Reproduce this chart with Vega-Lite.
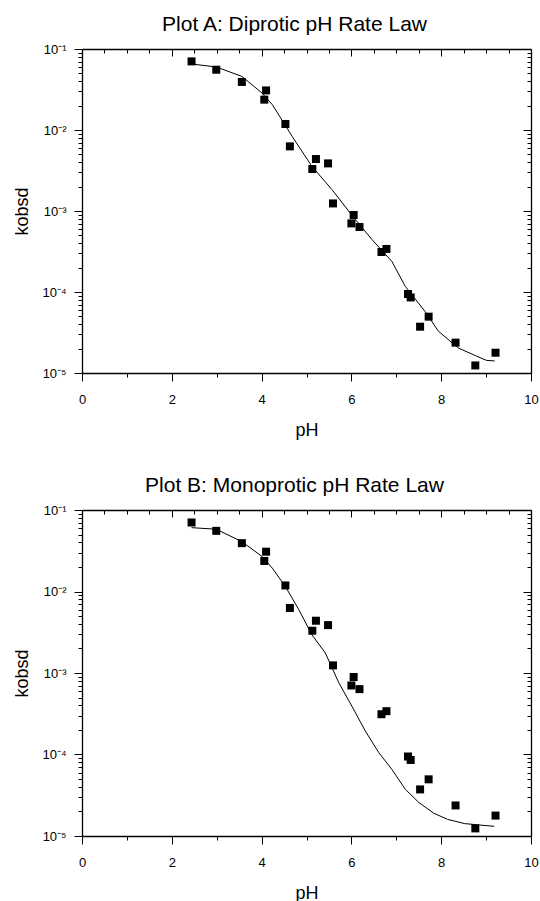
{
  "$schema": "https://vega.github.io/schema/vega-lite/v6.json",
  "background": "white",
  "padding": {"left": 13, "top": 14, "right": 5, "bottom": 5},
  "spacing": 36,
  "config": {
    "font": "Liberation Sans",
    "view": {"stroke": null},
    "axis": {"grid": false, "domainColor": "black", "tickColor": "black", "labelColor": "black", "titleColor": "black", "labelFont": "Liberation Sans", "titleFont": "Liberation Sans", "labelFontSize": 13, "titleFontSize": 18, "titleFontWeight": "normal", "domainWidth": 1.3, "tickWidth": 1, "labelOverlap": false, "labelFlush": false},
    "title": {"fontSize": 21, "fontWeight": "normal", "font": "Liberation Sans", "color": "black"}
  },
  "datasets": {
    "obs": [
      {"pH": 2.44, "k": 0.0703}, {"pH": 2.99, "k": 0.0555}, {"pH": 3.56, "k": 0.0392}, {"pH": 4.10, "k": 0.0308},
      {"pH": 4.06, "k": 0.0237}, {"pH": 4.53, "k": 0.01186}, {"pH": 4.63, "k": 0.00628}, {"pH": 5.21, "k": 0.00438},
      {"pH": 5.13, "k": 0.0033}, {"pH": 5.48, "k": 0.00387}, {"pH": 5.59, "k": 0.00124}, {"pH": 6.05, "k": 0.000893},
      {"pH": 6.00, "k": 0.000703}, {"pH": 6.18, "k": 0.000634}, {"pH": 6.67, "k": 0.000312}, {"pH": 6.78, "k": 0.00034},
      {"pH": 7.26, "k": 0.0000945}, {"pH": 7.32, "k": 0.0000857}, {"pH": 7.53, "k": 0.0000373}, {"pH": 7.72, "k": 0.0000496},
      {"pH": 8.32, "k": 0.0000237}, {"pH": 8.76, "k": 0.0000124}, {"pH": 9.21, "k": 0.0000178}
    ],
    "fitA": [
      {"pH": 2.44, "k": 0.0653}, {"pH": 2.99, "k": 0.0600}, {"pH": 3.56, "k": 0.0459}, {"pH": 4.01, "k": 0.0286},
      {"pH": 4.24, "k": 0.0205}, {"pH": 4.68, "k": 0.00834}, {"pH": 5.12, "k": 0.00356}, {"pH": 5.57, "k": 0.00183},
      {"pH": 6.03, "k": 0.000859}, {"pH": 6.46, "k": 0.000443}, {"pH": 6.90, "k": 0.000239}, {"pH": 7.20, "k": 0.0001175},
      {"pH": 7.64, "k": 0.0000575}, {"pH": 7.94, "k": 0.0000327}, {"pH": 8.38, "k": 0.0000204}, {"pH": 8.76, "k": 0.0000164},
      {"pH": 9.01, "k": 0.0000143}, {"pH": 9.19, "k": 0.0000141}
    ],
    "fitB": [
      {"pH": 2.44, "k": 0.0607}, {"pH": 2.99, "k": 0.0581}, {"pH": 3.56, "k": 0.0409}, {"pH": 4.01, "k": 0.0269},
      {"pH": 4.24, "k": 0.0193}, {"pH": 4.53, "k": 0.0115}, {"pH": 4.83, "k": 0.00597}, {"pH": 5.12, "k": 0.00295},
      {"pH": 5.42, "k": 0.00176}, {"pH": 5.72, "k": 0.000759}, {"pH": 6.01, "k": 0.000392}, {"pH": 6.31, "k": 0.000194},
      {"pH": 6.61, "k": 0.0001054}, {"pH": 6.90, "k": 0.0000659}, {"pH": 7.20, "k": 0.0000375}, {"pH": 7.50, "k": 0.0000258},
      {"pH": 7.83, "k": 0.0000191}, {"pH": 8.14, "k": 0.0000160}, {"pH": 8.52, "k": 0.0000142}, {"pH": 8.91, "k": 0.00001355},
      {"pH": 9.18, "k": 0.00001315}
    ]
  },
  "vconcat": [
    {
      "width": 449, "height": 324,
      "title": {"text": "Plot A: Diprotic pH Rate Law", "offset": 8, "dx": -12},
      "layer": [
        {
          "data": {"name": "obs"},
          "mark": {"type": "point", "shape": "square", "filled": true, "color": "black", "size": 64, "opacity": 1},
          "encoding": {
            "x": {"field": "pH", "type": "quantitative", "scale": {"domain": [0, 10], "nice": false},
              "axis": {"orient": "bottom", "title": "pH", "format": "d", "values": [0,0.5,1,1.5,2,2.5,3,3.5,4,4.5,5,5.5,6,6.5,7,7.5,8,8.5,9,9.5,10], "labelExpr": "datum.value % 2 == 0 ? datum.label : ''", "tickSize": {"condition": {"test": "datum.value % 2 == 0", "value": 8}, "value": 4}, "labelPadding": 12, "titlePadding": 15}},
            "y": {"field": "k", "type": "quantitative", "scale": {"type": "log", "domain": [0.00001, 0.1], "nice": false},
              "axis": {"orient": "left", "title": "kobsd", "values": [0.00001,0.00002,0.00003,0.00004,0.00005,0.00006,0.00007,0.00008,0.00009,0.0001,0.0002,0.0003,0.0004,0.0005,0.0006,0.0007,0.0008,0.0009,0.001,0.002,0.003,0.004,0.005,0.006,0.007,0.008,0.009,0.01,0.02,0.03,0.04,0.05,0.06,0.07,0.08,0.09,0.1],
                "labelExpr": "abs(log(datum.value)/LN10 - round(log(datum.value)/LN10)) < 0.01 ? '10' + (round(log(datum.value)/LN10) == -1 ? '⁻¹' : round(log(datum.value)/LN10) == -2 ? '⁻²' : round(log(datum.value)/LN10) == -3 ? '⁻³' : round(log(datum.value)/LN10) == -4 ? '⁻⁴' : '⁻⁵') : ''",
                "tickSize": {"condition": {"test": "abs(log(datum.value)/LN10 - round(log(datum.value)/LN10)) < 0.01", "value": 8}, "value": 4}, "labelPadding": 8, "titlePadding": 10}}
          }
        },
        {
          "data": {"name": "fitA"},
          "mark": {"type": "line", "color": "black", "strokeWidth": 1},
          "encoding": {
            "x": {"field": "pH", "type": "quantitative", "scale": {"domain": [0, 10], "nice": false},
              "axis": {"orient": "top", "title": null, "labels": false, "values": [0,0.5,1,1.5,2,2.5,3,3.5,4,4.5,5,5.5,6,6.5,7,7.5,8,8.5,9,9.5,10], "tickSize": {"condition": {"test": "datum.value % 2 == 0", "value": -7}, "value": -4}}},
            "y": {"field": "k", "type": "quantitative", "scale": {"type": "log", "domain": [0.00001, 0.1], "nice": false},
              "axis": {"orient": "right", "title": null, "labels": false, "values": [0.00001,0.00002,0.00003,0.00004,0.00005,0.00006,0.00007,0.00008,0.00009,0.0001,0.0002,0.0003,0.0004,0.0005,0.0006,0.0007,0.0008,0.0009,0.001,0.002,0.003,0.004,0.005,0.006,0.007,0.008,0.009,0.01,0.02,0.03,0.04,0.05,0.06,0.07,0.08,0.09,0.1],
                "tickSize": {"condition": {"test": "abs(log(datum.value)/LN10 - round(log(datum.value)/LN10)) < 0.01", "value": -8}, "value": -4}}}
          }
        }
      ],
      "resolve": {"axis": {"x": "independent", "y": "independent"}}
    },
    {
      "width": 449, "height": 326,
      "title": {"text": "Plot B: Monoprotic pH Rate Law", "offset": 8, "dx": -12},
      "layer": [
        {
          "data": {"name": "obs"},
          "mark": {"type": "point", "shape": "square", "filled": true, "color": "black", "size": 64, "opacity": 1},
          "encoding": {
            "x": {"field": "pH", "type": "quantitative", "scale": {"domain": [0, 10], "nice": false},
              "axis": {"orient": "bottom", "title": "pH", "format": "d", "values": [0,0.5,1,1.5,2,2.5,3,3.5,4,4.5,5,5.5,6,6.5,7,7.5,8,8.5,9,9.5,10], "labelExpr": "datum.value % 2 == 0 ? datum.label : ''", "tickSize": {"condition": {"test": "datum.value % 2 == 0", "value": 8}, "value": 4}, "labelPadding": 12, "titlePadding": 15}},
            "y": {"field": "k", "type": "quantitative", "scale": {"type": "log", "domain": [0.00001, 0.1], "nice": false},
              "axis": {"orient": "left", "title": "kobsd", "values": [0.00001,0.00002,0.00003,0.00004,0.00005,0.00006,0.00007,0.00008,0.00009,0.0001,0.0002,0.0003,0.0004,0.0005,0.0006,0.0007,0.0008,0.0009,0.001,0.002,0.003,0.004,0.005,0.006,0.007,0.008,0.009,0.01,0.02,0.03,0.04,0.05,0.06,0.07,0.08,0.09,0.1],
                "labelExpr": "abs(log(datum.value)/LN10 - round(log(datum.value)/LN10)) < 0.01 ? '10' + (round(log(datum.value)/LN10) == -1 ? '⁻¹' : round(log(datum.value)/LN10) == -2 ? '⁻²' : round(log(datum.value)/LN10) == -3 ? '⁻³' : round(log(datum.value)/LN10) == -4 ? '⁻⁴' : '⁻⁵') : ''",
                "tickSize": {"condition": {"test": "abs(log(datum.value)/LN10 - round(log(datum.value)/LN10)) < 0.01", "value": 8}, "value": 4}, "labelPadding": 8, "titlePadding": 10}}
          }
        },
        {
          "data": {"name": "fitB"},
          "mark": {"type": "line", "color": "black", "strokeWidth": 1},
          "encoding": {
            "x": {"field": "pH", "type": "quantitative", "scale": {"domain": [0, 10], "nice": false},
              "axis": {"orient": "top", "title": null, "labels": false, "values": [0,0.5,1,1.5,2,2.5,3,3.5,4,4.5,5,5.5,6,6.5,7,7.5,8,8.5,9,9.5,10], "tickSize": {"condition": {"test": "datum.value % 2 == 0", "value": -7}, "value": -4}}},
            "y": {"field": "k", "type": "quantitative", "scale": {"type": "log", "domain": [0.00001, 0.1], "nice": false},
              "axis": {"orient": "right", "title": null, "labels": false, "values": [0.00001,0.00002,0.00003,0.00004,0.00005,0.00006,0.00007,0.00008,0.00009,0.0001,0.0002,0.0003,0.0004,0.0005,0.0006,0.0007,0.0008,0.0009,0.001,0.002,0.003,0.004,0.005,0.006,0.007,0.008,0.009,0.01,0.02,0.03,0.04,0.05,0.06,0.07,0.08,0.09,0.1],
                "tickSize": {"condition": {"test": "abs(log(datum.value)/LN10 - round(log(datum.value)/LN10)) < 0.01", "value": -8}, "value": -4}}}
          }
        }
      ],
      "resolve": {"axis": {"x": "independent", "y": "independent"}}
    }
  ]
}
